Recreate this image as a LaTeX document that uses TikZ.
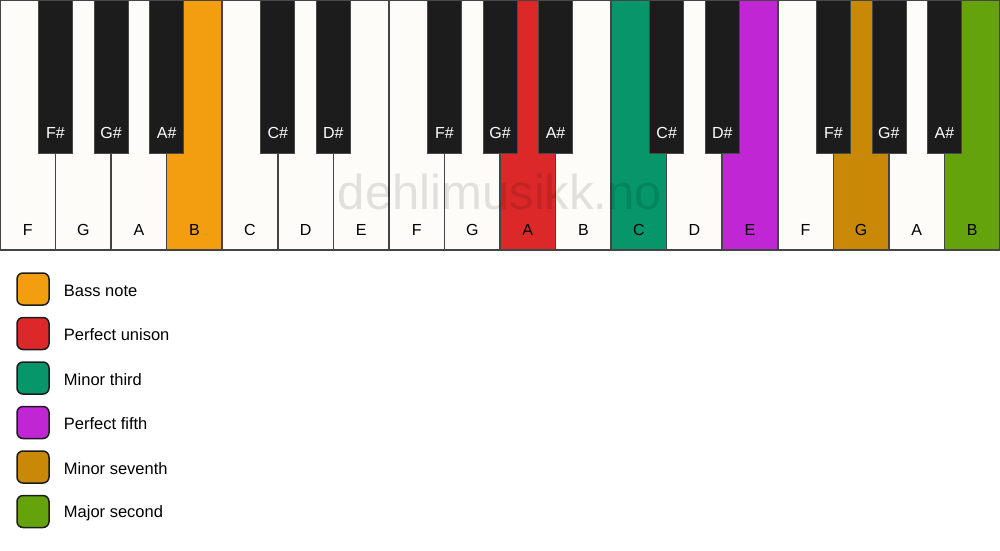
\documentclass[tikz,border=0pt]{standalone}
\usepackage{fontspec}
\setmainfont{Liberation Sans}
\usepackage{tikz}
\usetikzlibrary{positioning}

\definecolor{keywhite}{HTML}{FDFCF9}
\definecolor{keyblack}{HTML}{1C1C1C}
\definecolor{keyedge}{HTML}{444444}
\definecolor{bassnote}{HTML}{F39E0F}
\definecolor{unison}{HTML}{DC2828}
\definecolor{minthird}{HTML}{06966A}
\definecolor{perfifth}{HTML}{C026D3}
\definecolor{minseventh}{HTML}{C98805}
\definecolor{majsecond}{HTML}{65A30D}

\begin{document}
\begin{tikzpicture}[x=1pt,y=-1pt,
  white_key/.style={draw=keyedge,line width=1.5pt},
  black_key/.style={draw=keyblack!80!white,line width=0.8pt,fill=keyblack},
  white_label/.style={font=\fontsize{16}{18}\selectfont,text=black},
  black_label/.style={font=\fontsize{16}{18}\selectfont,text=white},
  legend_box/.style={draw=keyblack,line width=1.5pt,rounded corners=6pt,minimum size=32pt,inner sep=0pt},
  legend_text/.style={font=\fontsize{16.5}{19}\selectfont,inner sep=0pt,yshift=-1.5pt,right=14pt of #1}]
\useasboundingbox (0,0) rectangle (1000,550);

% white keys
\foreach \note/\col [count=\i from 0] in {F/keywhite, G/keywhite, A/keywhite, B/bassnote, C/keywhite, D/keywhite, E/keywhite,
    F/keywhite, G/keywhite, A/unison, B/keywhite, C/minthird, D/keywhite, E/perfifth,
    F/keywhite, G/minseventh, A/keywhite, B/majsecond} {
  \draw[white_key,fill=\col] (\i*55.556,0) rectangle ++(55.556,250);
  \node[white_label] (wkey_\i) at (\i*55.556+27.778,230) {\note};
}

% watermark
\node[font=\fontsize{49}{52}\selectfont,text=black,text opacity=0.11] (mark) at (500,192) {dehlimusikk.no};

% black keys
\foreach \k/\name in {1/F\#, 2/G\#, 3/A\#, 5/C\#, 6/D\#, 8/F\#, 9/G\#, 10/A\#, 12/C\#, 13/D\#, 15/F\#, 16/G\#, 17/A\#} {
  \draw[black_key] (\k*55.556-17,0) rectangle ++(34,153);
  \node[black_label] (bkey_\k) at (\k*55.556,133) {\name};
}

% legend
\node[legend_box,fill=bassnote] (box_a) at (33,289) {};
\node[legend_box,fill=unison] (box_b) at (33,333.5) {};
\node[legend_box,fill=minthird] (box_c) at (33,378) {};
\node[legend_box,fill=perfifth] (box_d) at (33,422.5) {};
\node[legend_box,fill=minseventh] (box_e) at (33,467) {};
\node[legend_box,fill=majsecond] (box_f) at (33,511.5) {};
\node[legend_text=box_a] (text_a) {Bass note};
\node[legend_text=box_b] (text_b) {Perfect unison};
\node[legend_text=box_c] (text_c) {Minor third};
\node[legend_text=box_d] (text_d) {Perfect fifth};
\node[legend_text=box_e] (text_e) {Minor seventh};
\node[legend_text=box_f] (text_f) {Major second};
\end{tikzpicture}
\end{document}
